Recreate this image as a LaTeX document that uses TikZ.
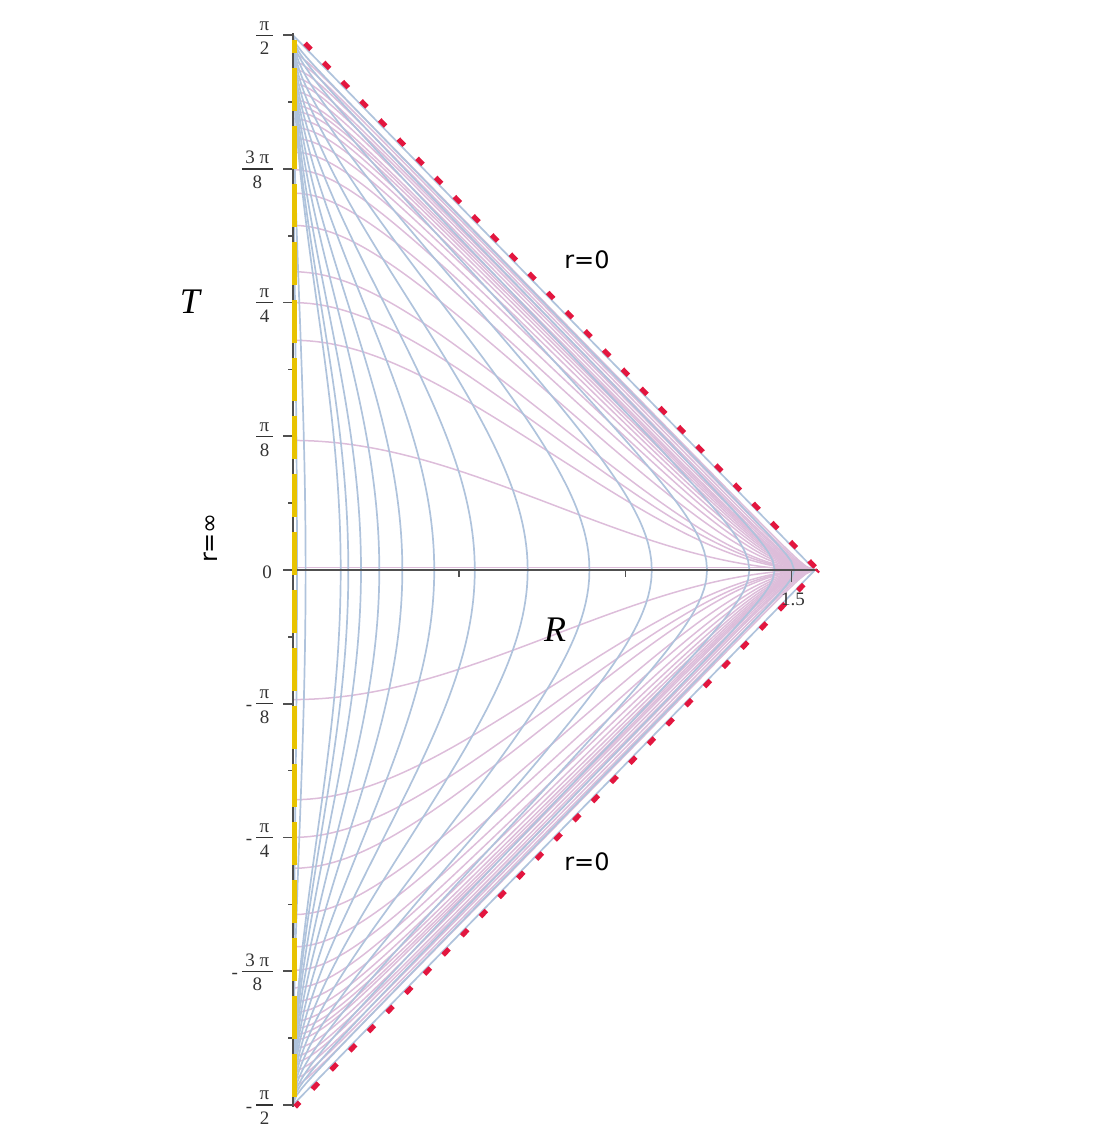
\documentclass[tikz,border=0pt]{standalone}
\usepackage{fontspec}
\setmainfont{Liberation Serif}
\newfontfamily\dejavu{DejaVu Sans}
\definecolor{bluec}{HTML}{AFC3DC}
\definecolor{pinkc}{HTML}{DDBDDA}
\definecolor{axisc}{HTML}{505050}
\definecolor{redc}{HTML}{E3163F}
\definecolor{yelc}{HTML}{E8C300}
\newcommand\myfr[2]{\begin{tabular}{@{\hspace{3.5pt}}c@{\hspace{3.5pt}}}#1\\[-2pt]\hline\rule{0pt}{19pt}#2\end{tabular}}
\setlength{\arrayrulewidth}{1.2pt}
\tikzset{
  pinkline/.style={draw=pinkc, line width=1.5pt},
  blueline/.style={draw=bluec, line width=1.7pt},
  axisline/.style={draw=axisc, line width=1.6pt},
  ticklab/.style={font=\fontsize{19}{22}\selectfont, text=black!80, anchor=east, inner sep=0pt},
  biglab/.style={font=\fontsize{36}{40}\selectfont\itshape, inner sep=0pt},
  sanslab/.style={font=\dejavu\fontsize{24}{28}\selectfont, inner sep=0pt},
  reddots/.style={draw=redc, line width=5pt, dash pattern=on 8.5pt off 18.26pt}
}
\begin{document}
\begin{tikzpicture}[x=1pt,y=-1pt]
\useasboundingbox (0,0) rectangle (1112,1141);
\def\kx{5.7998}
\def\ky{5.9428}
% constant-t curves
\foreach \c in {0.4,0.8,1.0,1.2,1.6,2.0,2.4,2.8,3.2,3.6,4.0,4.4,4.8,5.2,6,7,8,10,13,18}{
  \pgfmathsetmacro\vs{atan(\c)}
  \draw[pinkline] plot[variable=\v, domain=-89.8:\vs, samples=90]
    ({293+\kx*(atan(2*\c-tan(\v))-\v)/2}, {570-\ky*(atan(2*\c-tan(\v))+\v)/2});
  \draw[pinkline] plot[variable=\v, domain=-89.8:\vs, samples=90]
    ({293+\kx*(atan(2*\c-tan(\v))-\v)/2}, {570+\ky*(atan(2*\c-tan(\v))+\v)/2});
}
\coordinate (p0l) at (293,567.5);
\coordinate (p0r) at (815,567.5);
\draw[pinkline] (p0l) -- (p0r);
% constant-r curves
\foreach \z in {0.012,0.038,0.1445,0.168,0.2075,0.2657,0.3414,0.4526,0.609,0.853,1.24,1.87,2.97,5.0,8.2,16}{
  \pgfmathsetmacro\vs{atan(-\z)}
  \draw[blueline] plot[variable=\v, domain=\vs:89.8, samples=90]
    ({293+\kx*(atan(2*\z+tan(\v))-\v)/2}, {570-\ky*(atan(2*\z+tan(\v))+\v)/2});
  \draw[blueline] plot[variable=\v, domain=\vs:89.8, samples=90]
    ({293+\kx*(atan(2*\z+tan(\v))-\v)/2}, {570+\ky*(atan(2*\z+tan(\v))+\v)/2});
}
% boundary
\coordinate (top) at (293,35.2);
\coordinate (apex) at (815,570);
\coordinate (bot) at (293,1104.8);
\draw[blueline] (top) -- (apex) -- (bot);
% axes
\coordinate (vt) at (293,33);
\coordinate (vb) at (293,1107);
\coordinate (hl) at (293,570);
\coordinate (hr) at (818,570);
\draw[axisline] (vt) -- (vb);
\draw[axisline] (hl) -- (hr);
% ticks
\foreach \k in {-4,...,4}{
  \draw[axisline] (283,570-133.71*\k) -- (293,570-133.71*\k);
}
\foreach \k in {-7,-5,-3,-1,1,3,5,7}{
  \draw[axisline] (288,570-66.86*\k) -- (293,570-66.86*\k);
}
\draw[axisline] (459.2,570) -- (459.2,577);
\draw[axisline] (625.3,570) -- (625.3,577);
\draw[axisline] (791.5,570) -- (791.5,582);
% yellow dashed axis
\coordinate (yt) at (294.5,40);
\coordinate (yb) at (294.5,1100);
\draw[yelc, line width=4.5pt, dash pattern=on 43pt off 15pt, dash phase=30pt] (yt) -- (yb);
% red dotted boundary
\coordinate (rt) at (295.2,33.2);
\coordinate (ra) at (818,570);
\coordinate (rb) at (295.2,1106.8);
\draw[reddots, dash phase=12.7pt] (rt) -- (ra);
\draw[reddots, dash phase=2.1pt] (rb) -- (ra);
% labels
\node[ticklab] (l4) at (273,38.1) {\myfr{π}{2}};
\node[ticklab] (l3) at (273,171.8) {\myfr{3 π}{8}};
\node[ticklab] (l2) at (273,305.5) {\myfr{π}{4}};
\node[ticklab] (l1) at (273,439.2) {\myfr{π}{8}};
\node[ticklab] (l0) at (272,572) {0};
\node[ticklab] (m1) at (273,706.6) {-\hspace{4pt}\myfr{π}{8}};
\node[ticklab] (m2) at (273,840.3) {-\hspace{4pt}\myfr{π}{4}};
\node[ticklab] (m3) at (273,974.0) {-\hspace{4pt}\myfr{3 π}{8}};
\node[ticklab] (m4) at (273,1107.7) {-\hspace{4pt}\myfr{π}{2}};
\node[ticklab, anchor=center] (h15) at (793,599) {1.5};
\node[biglab] (Tlab) at (190,302) {T};
\node[biglab] (Rlab) at (555,630) {R};
\node[sanslab] (r0a) at (587,260) {r=0};
\node[sanslab] (r0b) at (587,862) {r=0};
\node[sanslab, rotate=90] (rinf) at (211,538) {r=∞};
\end{tikzpicture}
\end{document}
